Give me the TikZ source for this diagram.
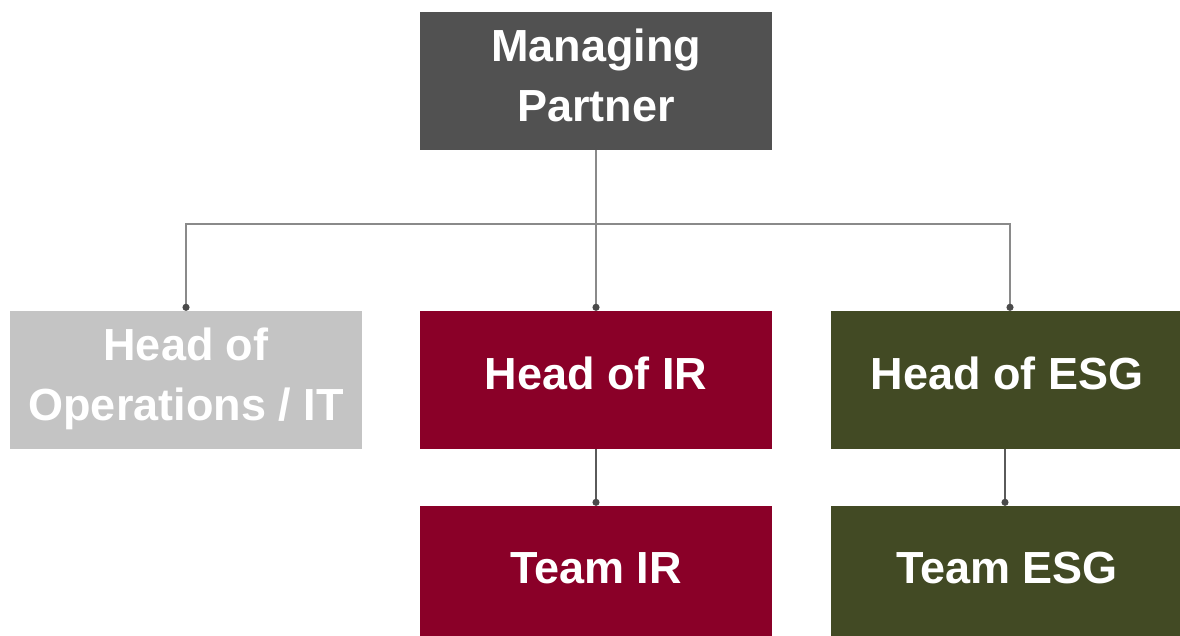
\documentclass[tikz,border=0pt]{standalone}
\usepackage{fontspec}
\setmainfont{Liberation Sans}
\usetikzlibrary{arrows.meta,positioning}
\definecolor{topgray}{HTML}{515151}
\definecolor{opsgray}{HTML}{C4C4C4}
\definecolor{irred}{HTML}{8A0028}
\definecolor{esggreen}{HTML}{424A24}
\definecolor{linegray}{HTML}{8A8A8A}
\definecolor{linedark}{HTML}{5A5A5A}
\definecolor{dotgray}{HTML}{4A4A4A}
\tikzset{
  orgbox/.style={rectangle, draw=none, minimum width=352pt, minimum height=138pt,
    inner sep=0pt, text=white, align=center,
    font=\fontsize{45}{60}\selectfont\bfseries},
  boxlabel/.style={text=white, align=center, inner sep=0pt,
    font=\fontsize{45}{60}\selectfont\bfseries},
  conn/.style={draw=linegray, line width=2pt, -{Circle[length=7pt, fill=dotgray, color=dotgray]}},
  subconn/.style={draw=linedark, line width=1.6pt, -{Circle[length=7pt, fill=dotgray, color=dotgray]}}
}
\begin{document}
\begin{tikzpicture}[x=1pt, y=-1pt]
  \useasboundingbox (0,0) rectangle (1180,636);
  \clip (0,0) rectangle (1180,636);

  % boxes
  \node[orgbox, fill=topgray]  (mp)    at (596,81)   {};
  \node[orgbox, fill=opsgray]  (ops)   at (186,380)  {};
  \node[orgbox, fill=irred]    (ir)    at (596,380)  {};
  \node[orgbox, fill=esggreen] (esg)   at (1007,380) {};
  \node[orgbox, fill=irred]    (teamir)  at (596,575)  {};
  \node[orgbox, fill=esggreen] (teamesg) at (1007,575) {};

  % labels, set slightly above the box centres
  \node[boxlabel] (mpl)  at ([yshift=6pt]mp.center)  {Managing\\Partner};
  \node[boxlabel] (opsl) at ([yshift=1pt]ops.center) {Head of\\Operations / IT};
  \node[boxlabel] (irl)  at ([yshift=7pt]ir.center)  {Head of IR};
  \node[boxlabel] (esgl) at ([yshift=7pt]esg.center) {Head of ESG};
  \node[boxlabel] (tirl) at ([yshift=7pt]teamir.center)  {Team IR};
  \node[boxlabel] (tesl) at ([yshift=7pt]teamesg.center) {Team ESG};

  % connectors
  \draw[draw=linegray, line width=2pt] (mp.south) -- ++(0,74) coordinate (j);
  \draw[conn] (j) -| (ops.north);
  \draw[conn] (j) -- (ir.north);
  \draw[conn] (j) -| ([xshift=3pt]esg.north);
  \draw[subconn] (ir.south) -- (teamir.north);
  \draw[subconn] ([xshift=-2pt]esg.south) -- ([xshift=-2pt]teamesg.north);
\end{tikzpicture}
\end{document}
